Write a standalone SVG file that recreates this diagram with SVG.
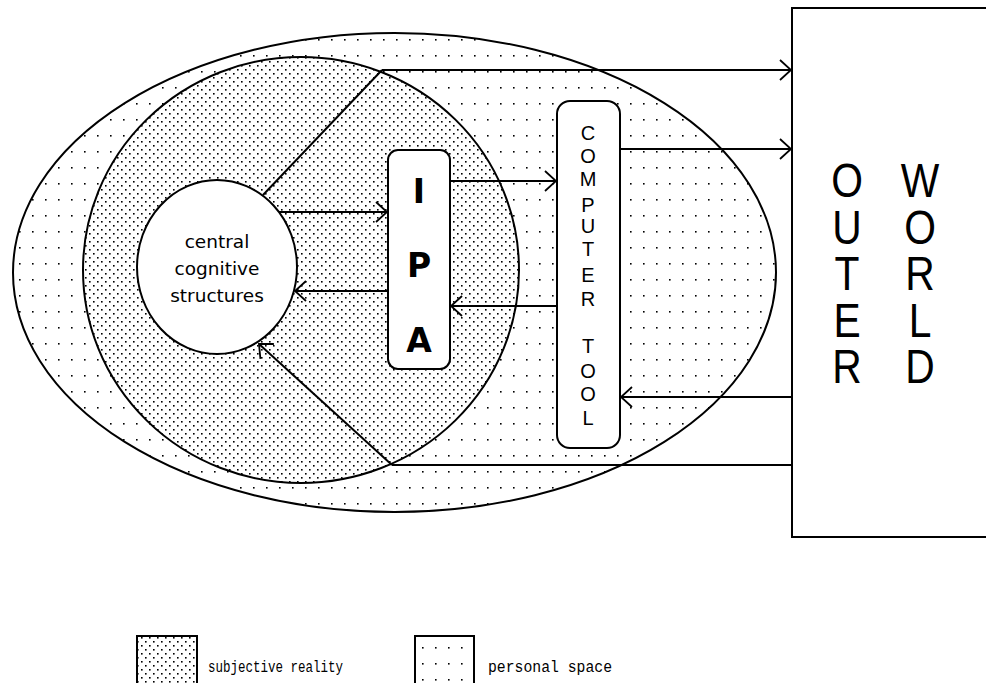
<svg xmlns="http://www.w3.org/2000/svg" width="986" height="683" viewBox="0 0 986 683">
  <style>
    .edge { stroke: #000; stroke-width: 2; }
    .link { fill: none; stroke: #000; stroke-width: 2; }
    .arrow { marker-end: url(#chevron); }
    .box { fill: #fff; stroke: #000; stroke-width: 2; }
    .small { font-family: "DejaVu Sans", "Liberation Sans", sans-serif; font-size: 18.5px; fill: #000; text-anchor: middle; }
    .ipa { font-family: "DejaVu Sans", "Liberation Sans", sans-serif; font-weight: bold; font-size: 33px; fill: #000; text-anchor: middle; }
    .tool { font-family: "Liberation Sans", "DejaVu Sans", sans-serif; font-size: 20px; fill: #000; text-anchor: middle; }
    .world { font-family: "Liberation Sans", "DejaVu Sans", sans-serif; font-size: 48px; letter-spacing: -6.2px; fill: #000; writing-mode: vertical-rl; text-orientation: upright; }
    .legend { font-family: "Liberation Mono", "DejaVu Sans Mono", monospace; font-size: 16px; fill: #000; }
  </style>
  <defs>
    <!-- sparse dots: personal space -->
    <pattern id="sparse" width="13" height="16" patternUnits="userSpaceOnUse">
      <rect x="6" y="7" width="1.6" height="1.6" fill="#000"/>
    </pattern>
    <!-- dense staggered dots: subjective reality -->
    <pattern id="dense" width="8" height="8" patternUnits="userSpaceOnUse">
      <rect x="1" y="1" width="1.6" height="1.6" fill="#000"/>
      <rect x="5" y="5" width="1.6" height="1.6" fill="#000"/>
    </pattern>
    <marker id="chevron" viewBox="-12 -11 13 22" refX="0" refY="0" markerWidth="13" markerHeight="22" markerUnits="userSpaceOnUse" orient="auto">
      <path d="M -11 -10 L 0 0 L -11 10" fill="none" stroke="#000" stroke-width="1.8"/>
    </marker>
  </defs>

  <rect width="986" height="683" fill="#fff"/>

  <!-- personal space -->
  <g id="personal-space">
    <ellipse cx="394.5" cy="272.5" rx="381.5" ry="239.5" fill="#fff"/>
    <ellipse cx="394.5" cy="272.5" rx="381.5" ry="239.5" fill="url(#sparse)" class="edge"/>
  </g>

  <!-- subjective reality -->
  <g id="subjective-reality">
    <ellipse cx="301" cy="270" rx="218" ry="213" fill="#fff"/>
    <ellipse cx="301" cy="270" rx="218" ry="213" fill="url(#dense)" class="edge"/>
  </g>

  <!-- central cognitive structures -->
  <g id="central">
    <ellipse cx="217" cy="267" rx="80" ry="87" class="box"/>
    <text class="small" x="217" y="248">central</text>
    <text class="small" x="217" y="275">cognitive</text>
    <text class="small" x="217" y="302">structures</text>
  </g>

  <!-- IPA -->
  <g id="ipa">
    <rect x="388" y="150" width="62" height="219" rx="10" class="box"/>
    <text class="ipa" x="419" y="203">I</text>
    <text class="ipa" x="419" y="277">P</text>
    <text class="ipa" x="419" y="352">A</text>
  </g>

  <!-- computer tool -->
  <g id="computer-tool">
    <rect x="557" y="101" width="63" height="347" rx="13" class="box"/>
    <text class="tool" x="588" y="140">C</text>
    <text class="tool" x="588" y="163">O</text>
    <text class="tool" x="588" y="186">M</text>
    <text class="tool" x="588" y="212">P</text>
    <text class="tool" x="588" y="233">U</text>
    <text class="tool" x="588" y="256">T</text>
    <text class="tool" x="588" y="282">E</text>
    <text class="tool" x="588" y="306">R</text>
    <text class="tool" x="588" y="353">T</text>
    <text class="tool" x="588" y="378">O</text>
    <text class="tool" x="588" y="401">O</text>
    <text class="tool" x="588" y="425">L</text>
  </g>

  <!-- outer world: two upright vertical columns, slightly condensed -->
  <g id="outer-world">
    <rect x="792" y="8" width="220" height="529" class="box"/>
    <text class="world" transform="translate(847 0) scale(0.85 1)" x="0" y="154">OUTER</text>
    <text class="world" transform="translate(920 0) scale(0.85 1)" x="0" y="154">WORLD</text>
  </g>

  <!-- connectors -->
  <g id="connectors">
    <line class="link arrow" x1="382" y1="70" x2="791" y2="70"/>
    <line class="link" x1="382" y1="70" x2="263" y2="195"/>
    <line class="link arrow" x1="279" y1="212" x2="387" y2="212"/>
    <line class="link arrow" x1="388" y1="291" x2="295" y2="291"/>
    <line class="link arrow" x1="450" y1="181" x2="556" y2="181"/>
    <line class="link arrow" x1="557" y1="306" x2="451" y2="306"/>
    <line class="link arrow" x1="620" y1="149" x2="791" y2="149"/>
    <line class="link arrow" x1="792" y1="397" x2="621" y2="397"/>
    <line class="link" x1="392" y1="465" x2="792" y2="465"/>
    <line class="link arrow" x1="392" y1="465" x2="259" y2="344"/>
  </g>

  <!-- legend -->
  <g id="legend-subjective">
    <rect x="137" y="636" width="60" height="60" fill="#fff"/>
    <rect x="137" y="636" width="60" height="60" fill="url(#dense)" class="edge"/>
    <text class="legend" x="208" y="672" textLength="135" lengthAdjust="spacingAndGlyphs">subjective reality</text>
  </g>
  <g id="legend-personal">
    <rect x="415" y="636" width="59" height="60" fill="#fff"/>
    <rect x="415" y="636" width="59" height="60" fill="url(#sparse)" class="edge"/>
    <text class="legend" x="488" y="672" textLength="124" lengthAdjust="spacingAndGlyphs">personal space</text>
  </g>
</svg>
